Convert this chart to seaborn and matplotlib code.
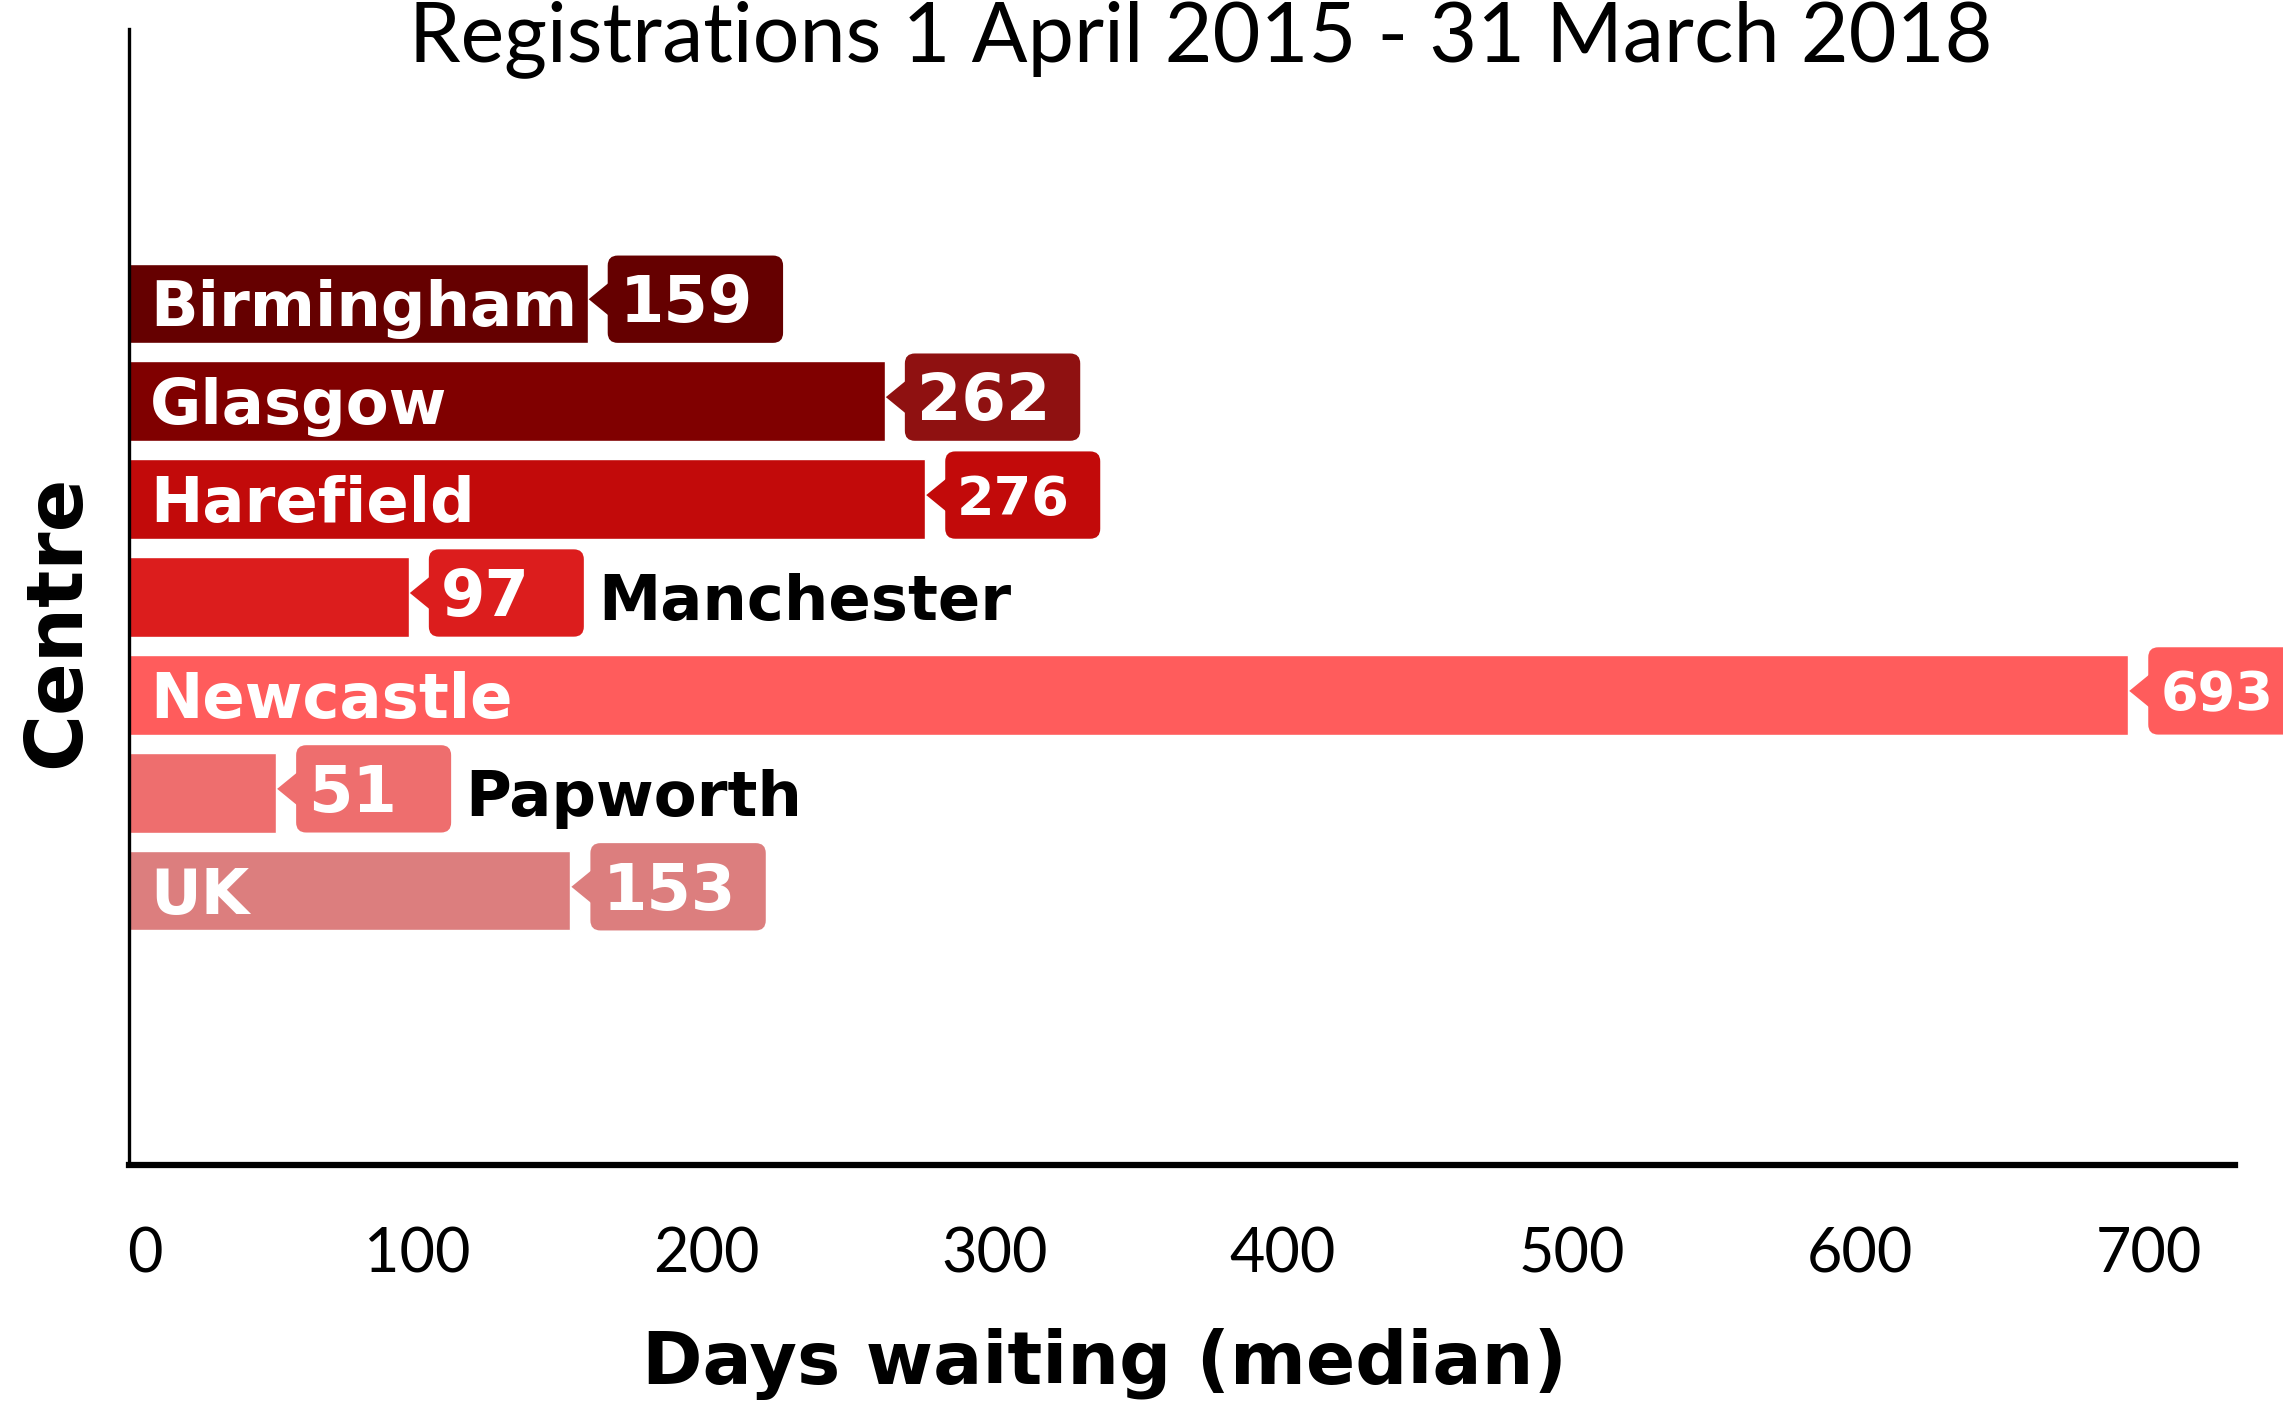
import numpy as np
import pandas as pd
import matplotlib
matplotlib.use('Agg')
import matplotlib.pyplot as plt
import seaborn as sns
from matplotlib.patches import FancyBboxPatch, Polygon
from matplotlib.transforms import IdentityTransform, ScaledTranslation

# ---- data ----
centres = ['Birmingham', 'Glasgow', 'Harefield', 'Manchester', 'Newcastle', 'Papworth', 'UK']
days = [159, 262, 276, 97, 693, 51, 153]
bar_colors = ['#650000', '#800000', '#C20A0A', '#DC1D1D', '#FF5C5C', '#EE6E6E', '#DC7E7E']
box_colors = ['#650000', '#8F1111', '#C20A0A', '#DC1D1D', '#FF5C5C', '#EE6E6E', '#DC7E7E']
label_inside = [True, True, True, False, True, False, True]
value_font_sizes = [46, 46, 39, 46, 39, 46, 46]
x_ticks = [0, 100, 200, 300, 400, 500, 600, 700]
title = 'Registrations 1 April 2015 - 31 March 2018'
x_title = 'Days waiting (median)'
y_title = 'Centre'

sns.set_theme(style='white')
plt.rcParams['font.family'] = ['Lato', 'DejaVu Sans']
plt.rcParams['text.color'] = 'black'
plt.rcParams['axes.labelcolor'] = 'black'
plt.rcParams['xtick.color'] = 'black'

W, H = 2283, 1408
DPI = 100
fig = plt.figure(figsize=(W / DPI, H / DPI), dpi=DPI)
ax = fig.add_axes([129 / W, 1 - 1165 / H, (2235 - 129) / W, (1165 - 29) / H])

df = pd.DataFrame({'centre': centres, 'days': days})
sns.barplot(data=df, x='days', y='centre', hue='centre', palette=bar_colors,
            saturation=1, width=0.81, legend=False, ax=ax, orient='h')

ax.set_xlim(0, 730)
ax.set_ylim(8.8, -2.8)
ax.set_yticks([])
ax.set_xticks(x_ticks)
ax.set_xticklabels([str(t) for t in x_ticks])
ax.tick_params(axis='x', length=0, pad=44, labelsize=44, labelcolor='black')
for s in ['top', 'right']:
    ax.spines[s].set_visible(False)
ax.spines['left'].set_linewidth(2.4)
ax.spines['left'].set_color('black')
ax.spines['bottom'].set_linewidth(4.5)
ax.spines['bottom'].set_color('black')

ax.set_xlabel(x_title, fontsize=52.5, fontweight='bold', family='DejaVu Sans', color='black')
ax.xaxis.label.set(ha='center', va='center')
ax.xaxis.set_label_coords((1104 - 129) / (2235 - 129), (1165 - 1364) / (1165 - 29))
ax.set_ylabel(y_title, fontsize=56, fontweight='bold', family='DejaVu Sans', color='black')
ax.yaxis.label.set(ha='center', va='center', rotation_mode='default')
ax.yaxis.set_label_coords((57 - 129) / (2235 - 129), (1165 - 621) / (1165 - 29))

fig.text(1201 / W, 1 - 61 / H, title, ha='center', va='baseline', fontsize=59.5,
         family=['Lato', 'DejaVu Sans'], color='black')

fig.canvas.draw()
# the "0" tick label sits a little to the right in the reference
lbl0 = ax.get_xticklabels()[0]
lbl0.set_transform(lbl0.get_transform() + ScaledTranslation(16 / DPI, 0, fig.dpi_scale_trans))

renderer = fig.canvas.get_renderer()
ident = IdentityTransform()
px = DPI / 72.0

for i, (name, v) in enumerate(zip(centres, days)):
    x0, yc = ax.transData.transform((0, i))
    x_end, _ = ax.transData.transform((v, i))
    _, y_a = ax.transData.transform((0, i - 0.405))
    _, y_b = ax.transData.transform((0, i + 0.405))
    top, bottom = max(y_a, y_b), min(y_a, y_b)

    box_left = x_end + 20
    box_bottom = bottom
    box_top = top + 8
    box_cy = (box_top + box_bottom) / 2

    fs = value_font_sizes[i]
    cap = 0.729 * fs * px
    t = ax.text(box_left + 12, box_cy - cap / 2, str(v), transform=ident,
                ha='left', va='baseline', fontsize=fs, fontweight='bold',
                family='DejaVu Sans', color='white', zorder=6, clip_on=False)
    tw = t.get_window_extent(renderer).width
    box_w = max(155, tw + 42)

    box = FancyBboxPatch((box_left, box_bottom), box_w, box_top - box_bottom,
                         boxstyle='round,pad=0,rounding_size=10', transform=ident,
                         facecolor=box_colors[i], edgecolor='none', zorder=4, clip_on=False)
    ax.add_artist(box)
    tri = Polygon([(x_end + 1, box_cy), (box_left + 3, box_cy + 18), (box_left + 3, box_cy - 18)],
                  closed=True, transform=ident, facecolor=box_colors[i],
                  edgecolor='none', zorder=4, clip_on=False)
    ax.add_artist(tri)

    ncap = 0.729 * 45 * px
    if label_inside[i]:
        ax.text(x0 + 21, yc - ncap / 2, name, transform=ident, ha='left', va='baseline',
                fontsize=45, fontweight='bold', family='DejaVu Sans', color='white',
                zorder=6, clip_on=False)
    else:
        ax.text(box_left + box_w + 14, yc - ncap / 2, name, transform=ident, ha='left',
                va='baseline', fontsize=45, fontweight='bold', family='DejaVu Sans',
                color='black', zorder=6, clip_on=False)

fig.savefig('out.png', dpi=DPI)
